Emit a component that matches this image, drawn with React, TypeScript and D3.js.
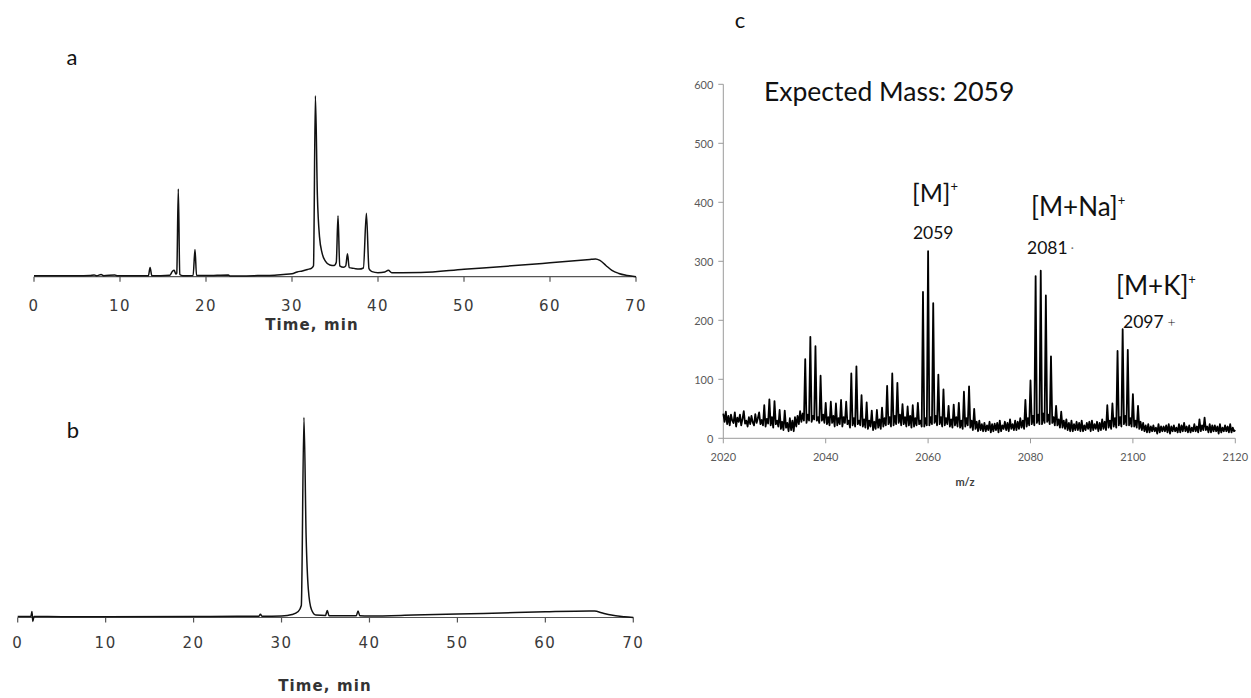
import React from "react";
import * as d3 from "d3";

// ---- HPLC trace, crude (panel a): retention time (min) and relative absorbance
const timeA = [0, 3, 6.5, 7.0, 7.3, 7.8, 8.1, 9.4, 9.7, 13.3, 13.5, 13.7, 15.8, 16.1, 16.3, 16.5, 16.6, 16.78, 16.95, 17.3, 18.5, 18.72, 18.9, 20, 22.6, 22.8, 26, 28, 29, 30, 30.6, 31.2, 31.8, 32.3, 32.5, 32.72, 32.95, 33.2, 33.5, 33.9, 34.4, 34.9, 35.15, 35.35, 35.55, 36.0, 36.25, 36.45, 36.65, 37.2, 37.8, 38.3, 38.65, 38.95, 39.3, 40, 40.8, 41.2, 41.6, 45, 50, 55, 60, 64.8, 65.3, 65.8, 66.5, 67.2, 68, 69, 70];
const signalA = [0.5, 0.5, 0.6, 1.0, 0.5, 1.2, 0.5, 1.0, 0.5, 0.5, 5.1, 0.5, 0.8, 3, 3.5, 1.5, 2, 48.5, 1.2, 0.5, 0.6, 15, 0.7, 0.6, 1.0, 0.4, 0.6, 0.8, 1.2, 1.6, 2.6, 3.2, 4, 4.8, 6, 100, 45, 22, 13, 8.5, 6.5, 6.2, 8, 33.7, 6, 5.2, 6, 12.7, 5, 4.6, 4.2, 4.8, 35, 4.5, 2.8, 2.2, 2.6, 3.5, 2.2, 2.3, 4.1, 5.8, 7.7, 9.6, 9.8, 9.0, 6.2, 3.5, 1.8, 0.7, 0];

// ---- HPLC trace, purified (panel b)
const timeB = [0, 1.5, 1.62, 1.72, 1.85, 5, 10, 20, 25, 27.4, 27.6, 27.8, 30, 31.2, 31.9, 32.25, 32.55, 32.8, 33.05, 33.4, 33.9, 35.0, 35.2, 35.4, 38.5, 38.7, 38.9, 40, 45, 50, 55, 60, 65.0, 65.6, 66.5, 67.5, 69, 70];
const signalB = [0.5, 0.5, 3, -2, 0.5, 0.4, 0.4, 0.5, 0.6, 0.6, 1.6, 0.6, 0.8, 1.5, 3, 6, 100, 40, 14, 4, 1.2, 1.0, 3.5, 0.9, 0.9, 3.2, 0.9, 0.8, 1.2, 1.7, 2.3, 2.9, 3.3, 3.2, 2.2, 1.2, 0.4, 0];

const timeTicks = [0, 10, 20, 30, 40, 50, 60, 70];

// ---- MALDI spectrum (panel c): intensity sampled every 0.25 m/z from 2020 to 2120
const mzStart = 2020;
const mzStep = 0.25;
const intensity = [
  42, 28, 45, 24, 38, 22, 40, 30, 26, 44, 20, 35, 28, 40, 22, 33, 46, 25, 30, 20,
  36, 24, 38, 27, 22, 41, 26, 34, 44, 24, 31, 22, 56, 20, 33, 25, 66, 22, 36, 18,
  63, 24, 30, 20, 48, 16, 28, 14, 47, 18, 26, 12, 34, 14, 30, 12, 36, 20, 38, 24,
  46, 28, 42, 30, 134, 26, 40, 30, 172, 28, 38, 32, 156, 30, 36, 26, 106, 30, 40, 26,
  60, 24, 36, 22, 62, 26, 38, 20, 59, 22, 34, 24, 65, 20, 36, 26, 62, 24, 30, 18,
  110, 22, 34, 20, 122, 24, 30, 22, 73, 20, 32, 18, 61, 16, 30, 20, 47, 14, 28, 16,
  48, 18, 32, 16, 52, 20, 34, 22, 89, 24, 36, 20, 110, 22, 38, 24, 94, 26, 40, 22,
  58, 24, 36, 20, 54, 22, 38, 18, 56, 20, 34, 22, 60, 24, 30, 20, 248, 20, 34, 22,
  317, 22, 36, 24, 229, 26, 38, 22, 108, 24, 36, 20, 83, 22, 34, 24, 55, 20, 32, 18,
  57, 22, 36, 20, 60, 18, 30, 16, 79, 20, 34, 22, 88, 18, 30, 14, 50, 16, 28, 12,
  30, 14, 24, 12, 26, 12, 22, 14, 28, 10, 24, 12, 25, 14, 26, 10, 30, 12, 22, 16,
  28, 14, 26, 12, 32, 16, 24, 14, 30, 14, 28, 16, 34, 18, 30, 16, 65, 20, 34, 22,
  98, 24, 38, 22, 275, 26, 40, 24, 284, 24, 42, 26, 242, 28, 40, 24, 139, 26, 36, 22,
  55, 22, 32, 18, 45, 18, 30, 16, 32, 14, 26, 12, 30, 12, 24, 14, 28, 14, 26, 12,
  30, 12, 22, 14, 26, 16, 28, 12, 30, 14, 24, 16, 28, 12, 26, 14, 32, 16, 28, 14,
  56, 18, 30, 16, 59, 20, 34, 18, 148, 22, 36, 20, 185, 24, 38, 22, 150, 22, 34, 20,
  75, 20, 30, 18, 55, 16, 28, 14, 26, 12, 22, 10, 24, 10, 20, 12, 22, 12, 18, 8,
  24, 10, 20, 12, 20, 12, 22, 10, 24, 8, 20, 12, 22, 12, 18, 10, 24, 10, 22, 12,
  26, 12, 20, 10, 22, 10, 18, 12, 24, 12, 20, 10, 32, 12, 22, 14, 35, 14, 20, 10,
  24, 10, 22, 12, 22, 12, 20, 8, 24, 10, 18, 12, 22, 12, 20, 10, 24, 10, 18, 12,
  14,
];
const mzTicks = [2020, 2040, 2060, 2080, 2100, 2120];
const intensityTicks = [0, 100, 200, 300, 400, 500, 600];

const CAL = "Lato, 'Open Sans', sans-serif";
const VER = "'DejaVu Sans', Verdana, sans-serif";

type ChromProps = {
  times: number[];
  values: number[];
  x0: number;
  x1: number;
  axisY: number;
  pxPerUnit: number;
  labelY: number;
  titleY: number;
  titleX: number;
};

function Chromatogram({ times, values, x0, x1, axisY, pxPerUnit, labelY, titleY, titleX }: ChromProps) {
  const x = d3.scaleLinear().domain([0, 70]).range([x0, x1]);
  const y = d3.scaleLinear().domain([0, 100]).range([axisY, axisY - 100 * pxPerUnit]);
  const line = d3
    .line<number>()
    .x((_, i) => x(times[i]))
    .y((v) => y(v))
    .curve(d3.curveMonotoneX);
  return (
    <g>
      <line x1={x0} x2={x1} y1={axisY} y2={axisY} stroke="#555" strokeWidth={1.2} />
      {timeTicks.map((t) => (
        <g key={t}>
          <line x1={x(t)} x2={x(t)} y1={axisY} y2={axisY + 5} stroke="#555" strokeWidth={1.2} />
          <text
            x={x(t)}
            y={labelY}
            textAnchor="middle"
            dominantBaseline="central"
            fontFamily={VER}
            fontSize={15}
            letterSpacing={1.5}
            fill="#3a3a3a"
          >
            {t}
          </text>
        </g>
      ))}
      <path d={line(values) ?? ""} fill="none" stroke="#111" strokeWidth={1.5} strokeLinejoin="round" />
      <text
        x={titleX}
        y={titleY}
        textAnchor="middle"
        dominantBaseline="central"
        fontFamily={VER}
        fontWeight="bold"
        fontSize={15}
        letterSpacing={1.1}
        fill="#333"
      >
        Time, min
      </text>
    </g>
  );
}

function Spectrum() {
  const left = 723.3;
  const right = 1235.3;
  const bottom = 438.3;
  const top = 84.3;
  const x = d3.scaleLinear().domain([2020, 2120]).range([left, right]);
  const y = d3.scaleLinear().domain([0, 600]).range([bottom, top]);
  const line = d3
    .line<number>()
    .x((_, i) => x(mzStart + i * mzStep))
    .y((v) => y(v));
  const axisColor = "#9a9a9a";
  const tickColor = "#595959";
  return (
    <g>
      <line x1={left} x2={left} y1={top} y2={bottom} stroke={axisColor} strokeWidth={1} />
      {intensityTicks.map((v) => (
        <g key={v}>
          <line x1={left - 5} x2={left} y1={y(v)} y2={y(v)} stroke={axisColor} />
          <text x={left - 10} y={y(v)} textAnchor="end" dominantBaseline="central" fontFamily={CAL} fontSize={11} fill={tickColor}>
            {v}
          </text>
        </g>
      ))}
      <line x1={left} x2={right} y1={bottom} y2={bottom} stroke={axisColor} strokeWidth={1} />
      {mzTicks.map((m) => (
        <g key={m}>
          <line x1={x(m)} x2={x(m)} y1={bottom} y2={bottom + 5} stroke={axisColor} />
          <text x={x(m)} y={bottom + 18} textAnchor="middle" dominantBaseline="central" fontFamily={CAL} fontSize={11} fill={tickColor}>
            {m}
          </text>
        </g>
      ))}
      <text x={965} y={481} textAnchor="middle" dominantBaseline="central" fontFamily={CAL} fontSize={11} fontWeight="bold" fill="#404040">
        m/z
      </text>
      <path d={line(intensity) ?? ""} fill="none" stroke="#000" strokeWidth={1.8} strokeLinejoin="round" />

      <text x={764} y={101} fontFamily={CAL} fontSize={26.5} fill="#111">
        Expected Mass: 2059
      </text>

      <text x={912} y={202} fontFamily={CAL} fontSize={25} fill="#111">
        [M]<tspan dy={-11} fontSize={13}>+</tspan>
      </text>
      <text x={x(2061)} y={232} textAnchor="middle" dominantBaseline="central" fontFamily={CAL} fontSize={17.5} fill="#111">
        2059
      </text>

      <text x={1031} y={216} fontFamily={CAL} fontSize={26} fill="#111">
        [M+Na]<tspan dy={-11} fontSize={13}>+</tspan>
      </text>
      <text x={1027} y={247} dominantBaseline="central" fontFamily={CAL} fontSize={17.5} fill="#111">
        2081<tspan fontSize={12} fill="#777"> ·</tspan>
      </text>

      <text x={1116} y={295} fontFamily={CAL} fontSize={26} fill="#111">
        [M+K]<tspan dy={-11} fontSize={13}>+</tspan>
      </text>
      <text x={1123} y={321} dominantBaseline="central" fontFamily={CAL} fontSize={17.5} fill="#111">
        2097<tspan fontSize={14} fontWeight={300}> +</tspan>
      </text>
    </g>
  );
}

export default function App() {
  return (
    <div style={{ position: "absolute", left: 0, top: 0 }}>
      <svg width={1251} height={698} viewBox="0 0 1251 698" style={{ display: "block", background: "#fff" }}>
        <rect width={1251} height={698} fill="#fff" />
        <text x={72} y={56} textAnchor="middle" dominantBaseline="central" fontFamily={CAL} fontSize={22} fill="#111">
          a
        </text>
        <text x={73} y={429} textAnchor="middle" dominantBaseline="central" fontFamily={CAL} fontSize={22} fill="#111">
          b
        </text>
        <text x={740} y={19} textAnchor="middle" dominantBaseline="central" fontFamily={CAL} fontSize={22} fill="#111">
          c
        </text>

        <Chromatogram
          times={timeA}
          values={signalA}
          x0={34}
          x1={636}
          axisY={276.7}
          pxPerUnit={1.81}
          labelY={306}
          titleY={325}
          titleX={312}
        />
        <Chromatogram
          times={timeB}
          values={signalB}
          x0={17.7}
          x1={633.3}
          axisY={617.5}
          pxPerUnit={2.0}
          labelY={643}
          titleY={686}
          titleX={325}
        />
        <Spectrum />
      </svg>
    </div>
  );
}
